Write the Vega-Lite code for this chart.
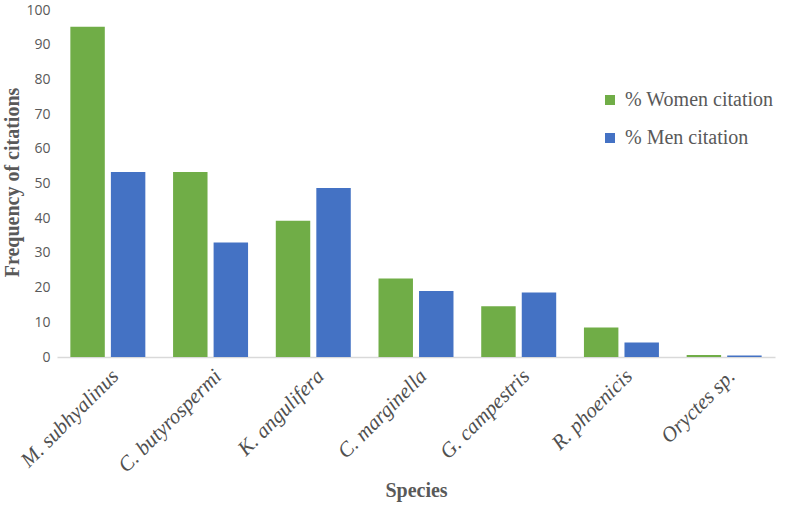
{
  "$schema": "https://vega.github.io/schema/vega-lite/v6.json",
  "autosize": "none",
  "width": 718,
  "height": 347,
  "padding": {"left": 57, "top": 10, "right": 12, "bottom": 153},
  "background": "white",
  "data": {"values": [
    {"species": "M. subhyalinus", "group": "% Women citation", "value": 95.2},
    {"species": "M. subhyalinus", "group": "% Men citation", "value": 53.3},
    {"species": "C. butyrospermi", "group": "% Women citation", "value": 53.3},
    {"species": "C. butyrospermi", "group": "% Men citation", "value": 33.0},
    {"species": "K. angulifera", "group": "% Women citation", "value": 39.3},
    {"species": "K. angulifera", "group": "% Men citation", "value": 48.7},
    {"species": "C. marginella", "group": "% Women citation", "value": 22.6},
    {"species": "C. marginella", "group": "% Men citation", "value": 19.0},
    {"species": "G. campestris", "group": "% Women citation", "value": 14.6},
    {"species": "G. campestris", "group": "% Men citation", "value": 18.6},
    {"species": "R. phoenicis", "group": "% Women citation", "value": 8.5},
    {"species": "R. phoenicis", "group": "% Men citation", "value": 4.2},
    {"species": "Oryctes sp.", "group": "% Women citation", "value": 0.6},
    {"species": "Oryctes sp.", "group": "% Men citation", "value": 0.4}
  ]},
  "mark": {"type": "bar"},
  "encoding": {
    "x": {
      "field": "species", "type": "nominal", "sort": null,
      "scale": {"paddingInner": 0.27, "paddingOuter": 0.13},
      "axis": {
        "title": "Species", "titleFont": "Liberation Serif", "titleFontSize": 20, "titleFontWeight": "bold", "titleColor": "#595959",
        "titleY": 133, "titleBaseline": "middle", "titleAlign": "center",
        "labelAngle": -45, "labelFont": "Liberation Serif", "labelFontStyle": "italic", "labelFontSize": 21, "labelColor": "#505050", "labelPadding": 8,
        "ticks": false, "domainColor": "#d9d9d9", "domainWidth": 1.5, "grid": false
      }
    },
    "xOffset": {"field": "group", "type": "nominal", "sort": ["% Women citation", "% Men citation"], "scale": {"paddingInner": 0.15}},
    "y": {
      "field": "value", "type": "quantitative",
      "scale": {"domain": [0, 100], "nice": false},
      "axis": {
        "title": "Frequency of citations", "titleFont": "Liberation Serif", "titleFontSize": 20, "titleFontWeight": "bold", "titleColor": "#595959",
        "titleX": -35, "titleY": 172, "titleAlign": "center", "titleBaseline": "bottom", "titleAngle": -90,
        "values": [0,10,20,30,40,50,60,70,80,90,100],
        "labelFont": "Open Sans", "labelFontSize": 14, "labelColor": "#595959", "labelPadding": 7,
        "ticks": false, "domain": false, "grid": false
      }
    },
    "color": {
      "field": "group", "type": "nominal", "sort": ["% Women citation", "% Men citation"],
      "scale": {"domain": ["% Women citation", "% Men citation"], "range": ["#70AD47", "#4472C4"]},
      "legend": {
        "title": null, "orient": "none", "legendX": 543, "legendY": 80,
        "symbolType": "square", "symbolSize": 100, "symbolStrokeWidth": 0,
        "labelFont": "Liberation Serif", "labelFontSize": 20, "labelColor": "#595959",
        "rowPadding": 18, "labelOffset": 5
      }
    }
  },
  "config": {"view": {"stroke": null}}
}
